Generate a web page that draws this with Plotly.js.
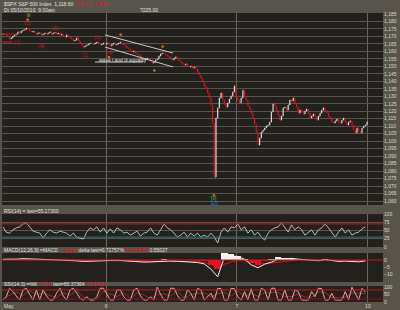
<!DOCTYPE html>
<html><head><meta charset="utf-8">
<script src="https://cdn.plot.ly/plotly-3.0.1.min.js"></script>
<style>html,body{margin:0;padding:0;background:#58544c;}#chart{width:400px;height:310px;}</style>
</head><body><div id="chart"></div>
<script>
// 5-minute closes, May 5 (partial), May 6, May 7 2010
const closes = [
1171.6,1171.4,1170.8,1169.6,1168.3,1169.0,1170.3,1171.0,1171.6,1173.0,
1172.3,1173.6,1174.3,1174.6,1175.6,1175.0,1173.6,1173.0,1173.6,1172.3,
1171.6,1172.3,1172.3,1171.0,1171.6,1172.3,1171.6,1172.3,1173.0,1171.6,
1172.3,1172.6,1171.6,1172.3,1171.0,1171.6,1170.3,1169.6,1171.0,1170.3,
1169.0,1168.3,1167.0,1167.6,1169.0,1167.0,1165.6,1164.3,1162.9,1163.6,
1164.3,1164.9,1165.6,1164.9,1164.9,1165.6,1166.3,1165.6,1164.3,1164.9,
1165.6,1164.9,
1165.6,1164.3,1163.6,1164.9,1165.6,1164.3,1164.9,1165.6,1166.3,1164.9,
1164.3,1163.6,1162.3,1161.6,1160.9,1159.6,1160.3,1158.9,1158.3,1157.6,
1156.3,1154.9,1154.3,1154.9,1155.6,1154.9,1153.6,1152.2,1152.9,1154.3,
1154.9,1156.9,1158.3,1158.9,1158.3,1157.6,1156.9,1156.3,1154.9,1154.3,
1155.6,1156.3,1154.9,1153.6,1152.9,1151.6,1150.9,1151.6,1150.2,1149.6,
1150.2,1148.9,1149.6,1148.2,1146.2,1144.2,1142.2,1140.2,1136.9,1135.5,
1132.2,1128.8,1124.2,1112.0,1076.0,1115.5,1122.2,1128.8,1132.2,1127.5,
1124.8,1122.8,1125.5,1128.2,1130.2,1132.9,1136.9,1128.8,
1127.5,1125.5,1128.8,1134.0,1130.2,1127.5,1123.5,1121.5,1118.8,1115.5,
1111.5,1106.1,1097.4,1102.1,1106.1,1107.5,1108.8,1110.1,1110.8,1112.8,
1119.5,1124.8,1123.5,1120.8,1117.5,1114.1,1116.8,1122.2,1122.8,1120.8,
1124.2,1127.5,1126.8,1128.8,1125.5,1122.8,1118.8,1120.8,1119.5,1118.2,
1120.2,1121.5,1118.8,1115.5,1116.8,1118.2,1116.2,1114.1,1116.8,1118.8,
1120.8,1122.2,1120.2,1118.8,1116.8,1115.5,1112.8,1112.1,1113.5,1114.8,
1112.8,1112.1,1114.1,1115.5,1112.8,1110.8,1112.8,1113.5,1110.8,1107.5,
1105.5,1108.8,1106.8,1105.5,1108.8,1110.1,1110.8,1112.8];

// RSI(14), one value every 2 bars
const rsi = [61,45,42,52,58,61,70,73,61,48,45,42,27,42,52,45,42,48,45,42,33,42,30,27,24,45,58,52,61,45,58,42,55,42,58,52,42,45,36,42,48,33,42,45,58,42,36,52,70,58,52,42,30,36,45,30,42,33,42,30,
36,30,42,30,12,45,58,45,61,58,70,52,61,42,52,36,45,30,21,42,52,58,61,73,58,45,67,52,61,52,36,45,52,36,52,58,70,58,45,30,45,58,42,52,36,42,45,55,61];

// MACD(12,26,9), one value every 4 bars
const macdLine = [0.5,0.3,0.6,0.9,1.0,0.6,0.4,0.3,0.2,0.1,-0.3,-0.6,-1.0,-0.8,-0.5,-0.3,-0.4,-0.2,-0.5,-0.9,-1.2,-1.5,-1.4,-1.0,-0.6,-0.7,-0.9,-1.2,-1.3,-1.8,-2.8,-6.5,-12,2.0,3.0,2.5,0.5,-3.5,-5.5,-3,-1.5,0.5,0.8,1.2,0.6,0.2,-0.2,-0.5,0.3,-0.6,-1.0,-0.8,-1.0,-1.3,-0.6];
const macdSignal = [0.3,0.3,0.4,0.6,0.7,0.7,0.6,0.5,0.4,0.3,0.1,-0.1,-0.4,-0.5,-0.5,-0.4,-0.4,-0.3,-0.4,-0.5,-0.7,-0.9,-1.1,-1.1,-1.0,-0.9,-0.9,-1.0,-1.1,-1.3,-1.8,-3.0,-5.5,-3.0,-1.5,-0.5,-0.2,-1.0,-2.2,-2.5,-2.2,-1.5,-0.8,-0.2,0.1,0.1,0.0,-0.2,-0.1,-0.2,-0.4,-0.5,-0.6,-0.8,-0.7];

// Stochastic(14,3): %K every 2 bars, %D every 4 bars
const stochK = [13,35,91,70,40,13,80,91,50,13,80,13,80,40,13,13,58,91,40,13,80,91,60,24,13,35,13,13,35,91,91,50,13,13,80,80,35,13,13,80,91,40,13,13,35,13,98,50,13,13,91,91,45,13,13,80,58,13,91,80,
13,35,58,13,91,88,13,13,91,88,35,13,69,13,88,13,13,91,80,13,91,91,13,13,80,13,13,80,69,13,13,13,69,35,91,88,13,13,58,13,13,13,69,13,98,58,13,91,65];
const stochD = [20,46,67,44,74,48,58,44,28,63,44,77,32,20,20,72,51,35,65,20,61,48,20,49,54,39,76,24,50,54,61,35,54,64,39,71,39,57,38,61,61,65,35,35,54,32,32,65,64,28,28,32,60,56,56];

const dayBreaks = [61.5,139.5,217.5];
const dayLabels = ["6","7","10"];

const barX = closes.map((_,i)=>i);
const opens = closes.map((c,i)=> i===0 ? c : closes[i-1]);
const highs = closes.map((c,i)=> Math.max(c, opens[i]));
const lows = closes.map((c,i)=> Math.min(c, opens[i]));
const rsiX = rsi.map((_,k)=>2*k);
const macdX = macdLine.map((_,k)=>4*k);
const hist = macdLine.map((m,k)=> m - macdSignal[k]);
const kX = stochK.map((_,k)=>2*k);
const dX = stochD.map((_,k)=>4*k);

const traces = [
 {type:'ohlc', x:barX, open:opens, high:highs, low:lows, close:closes, xaxis:'x', yaxis:'y',
  increasing:{line:{color:'#dcdcdc', width:1.2}}, decreasing:{line:{color:'#e8101c', width:1.2}}, tickwidth:0.3, hoverinfo:'skip'},
 {type:'scatter', mode:'lines', x:rsiX, y:rsi, xaxis:'x2', yaxis:'y2', line:{color:'#b8b8b4', width:1}, hoverinfo:'skip'},
 {type:'bar', x:macdX, y:hist, xaxis:'x3', yaxis:'y3', width:4,
  marker:{color:hist.map(h=> h>=0 ? '#f4f4f4' : '#e8101c'), line:{width:0}}, hoverinfo:'skip'},
 {type:'scatter', mode:'lines', x:macdX, y:macdSignal, xaxis:'x3', yaxis:'y3', line:{color:'#e8101c', width:1}, hoverinfo:'skip'},
 {type:'scatter', mode:'lines', x:macdX, y:macdLine, xaxis:'x3', yaxis:'y3', line:{color:'#f0f0f0', width:1}, hoverinfo:'skip'},
 {type:'scatter', mode:'lines', x:dX, y:stochD, xaxis:'x4', yaxis:'y4', line:{color:'#b0202a', width:1}, hoverinfo:'skip'},
 {type:'scatter', mode:'lines', x:kX, y:stochK, xaxis:'x4', yaxis:'y4', line:{color:'#e8a8a8', width:1}, hoverinfo:'skip'}
];

const grid = '#57544d';
const tickFont = {family:'Liberation Sans Narrow, Liberation Sans, Arial, sans-serif', size:5, color:'#d8d8d0'};
function xax(anchor, labels){
  return {anchor:anchor, range:[-0.5,226.5], tickvals:dayBreaks, ticktext:dayLabels, showticklabels:labels,
    showgrid:true, gridcolor:'#6a675f', gridwidth:1, zeroline:false, showline:false, ticks:'',
    tickfont:tickFont, rangeslider:{visible:false}, fixedrange:true};
}
function yax(domain, range, extra){
  return Object.assign({domain:domain, range:range, side:'right', anchor:'x', showgrid:true, gridcolor:grid, gridwidth:1,
    zeroline:false, showline:false, ticks:'', tickfont:tickFont, fixedrange:true}, extra);
}

const layout = {
  width:400, height:310, margin:{l:2, r:17, t:13, b:8},
  paper_bgcolor:'#58544c', plot_bgcolor:'#23211e', showlegend:false, bargap:0,
  font:tickFont,
  xaxis: xax('y', false),
  xaxis2: Object.assign(xax('y2', false), {matches:'x'}),
  xaxis3: Object.assign(xax('y3', false), {matches:'x'}),
  xaxis4: Object.assign(xax('y4', true), {matches:'x'}),
  yaxis: yax([0.3356,1], [1057.33,1185.67], {tick0:1060, dtick:5, tickformat:',d'}),
  yaxis2: yax([0.1903,0.3045], [0,100], {anchor:'x2', tickvals:[0,25,50,75,100]}),
  yaxis3: yax([0.0692,0.1696], [-15.7,5], {anchor:'x3', tickvals:[-10,-5,0], showgrid:false}),
  yaxis4: yax([0,0.0554], [0,106], {anchor:'x4', tickvals:[0,50,100], showgrid:false}),
  shapes: [
    {type:'line', xref:'x2 domain', yref:'y2', x0:0, x1:1, y0:70, y1:70, line:{color:'#d0141c', width:1}},
    {type:'line', xref:'x2 domain', yref:'y2', x0:0, x1:1, y0:30, y1:30, line:{color:'#1f7f86', width:1}},
    {type:'line', xref:'x3 domain', yref:'y3', x0:0, x1:1, y0:0, y1:0, line:{color:'#d0141c', width:1}},
    {type:'line', xref:'x4 domain', yref:'y4', x0:0, x1:1, y0:80, y1:80, line:{color:'#d0141c', width:1}},
    {type:'line', xref:'x4 domain', yref:'y4', x0:0, x1:1, y0:20, y1:20, line:{color:'#8c1018', width:1}},
    {type:'line', xref:'x', yref:'y', x0:60.9, y0:1171.0, x1:101.4, y1:1158.9, line:{color:'#c8c8c8', width:1}},
    {type:'line', xref:'x', yref:'y', x0:60.9, y0:1162.9, x1:101.4, y1:1149.6, line:{color:'#c8c8c8', width:1}},
    {type:'line', xref:'x', yref:'y', x0:54.9, y0:1152.9, x1:83.5, y1:1152.9, line:{color:'#c8c8c8', width:1}},
    {type:'line', xref:'x', yref:'y', x0:-0.5, y0:1171.6, x1:8.4, y1:1171.6, line:{color:'#d0141c', width:1}},
    {type:'line', xref:'x', yref:'y', x0:-0.5, y0:1166.3, x1:6, y1:1166.3, line:{color:'#d0141c', width:1}},
    {type:'rect', xref:'x', yref:'y', x0:69.5, x1:71, y0:1170.5, y1:1172, fillcolor:'#c07020', line:{width:0}},
    {type:'rect', xref:'x', yref:'y', x0:94.5, x1:96, y0:1162.5, y1:1164, fillcolor:'#c07020', line:{width:0}},
    {type:'rect', xref:'x', yref:'y', x0:89.5, x1:91, y0:1146.5, y1:1148, fillcolor:'#c07020', line:{width:0}},
    {type:'rect', xref:'x', yref:'y', x0:62.5, x1:64, y0:1155.5, y1:1157, fillcolor:'#c07020', line:{width:0}},
    {type:'rect', xref:'x', yref:'y', x0:14, x1:15.5, y0:1180.5, y1:1182, fillcolor:'#c07020', line:{width:0}},
    {type:'rect', xref:'x', yref:'y', x0:125, x1:126.5, y0:1063, y1:1064.5, fillcolor:'#c07020', line:{width:0}}
  ],
  annotations: []
};

function ann(text, x, y, color, opts){
  return Object.assign({text:text, x:x, y:y, xref:'x', yref:'y', showarrow:false,
    font:{family:'Liberation Sans Narrow, Arial, sans-serif', size:5, color:color}}, opts||{});
}
function pann(text, x, y, color, xanchor){
  return {text:text, x:x, y:y, xref:'paper', yref:'paper', xanchor:xanchor||'left', yanchor:'middle', showarrow:false,
    font:{family:'Liberation Sans Narrow, Arial, sans-serif', size:5, color:color}};
}
layout.annotations.push(
  ann('(5)', 14.4, 1179, '#d0141c'),
  ann('iii', 15, 1184.3, '#b8b830'),
  ann('(c)', 8.4, 1166.3, '#d0141c'),
  ann('(4)', 23, 1163.6, '#d0141c'),
  ann('(3)', 31, 1175.6, '#d0141c'),
  ann('(1)', 49, 1157.6, '#d0141c'),
  ann('(b)', 56, 1169.6, '#d0141c'),
  ann('(a)', 63, 1159.6, '#d0141c'),
  ann('wave i and iii equality', 56, 1154.3, '#e0e0e0', {xanchor:'left'}),
  ann('[v]', 126, 1062, '#40c040'),
  ann('ED', 126, 1059, '#3070e0'),
  pann('$SPX S&P 500 Index  1,118.60  <span style="color:#e8101c">-13.27  -1.83%</span>', 0, 1.031, '#e0e0e0'),
  pann('Dt 05/10/2010  9:30am', 0, 1.012, '#e0e0e0'),
  pann('?225.00', 0.358, 1.012, '#e0e0e0'),
  pann('RSI(14) = last=55.17300', 0, 0.315, '#e0e0e0'),
  pann('MACD(12,26,9) =MACD <span style="color:#e8101c">—signal</span> delta last=0.71757% <span style="color:#e8101c">0.17064%</span> 0.55027', 0, 0.18, '#e0e0e0'),
  pann('SSI(14,3) =%K <span style="color:#e8101c">—%D</span> last=65.37364 <span style="color:#e8101c">67.36113</span>', 0, 0.064, '#e0e0e0'),
  pann('May', 0, -0.013, '#d8d8d0')
);

Plotly.newPlot('chart', traces, layout, {displayModeBar:false, staticPlot:true});
</script></body></html>
